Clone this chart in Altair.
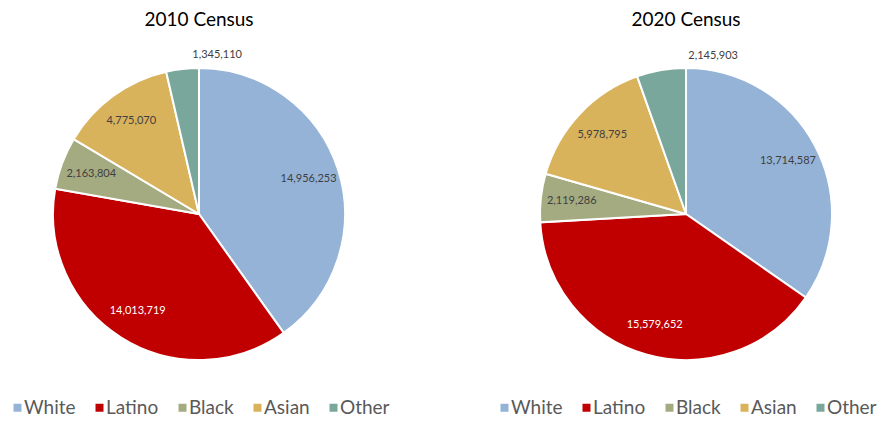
import altair as alt
import pandas as pd

groups = ["White", "Latino", "Black", "Asian", "Other"]
colors = ["#95B3D7", "#C00000", "#A5AB81", "#D9B25C", "#7AA79C"]
values_2010 = [14956253, 14013719, 2163804, 4775070, 1345110]
values_2020 = [13714587, 15579652, 2119286, 5978795, 2145903]
titles = ["2010 Census", "2020 Census"]

FONT = "Lato"


def panel(values, title):
    df = pd.DataFrame({
        "group": groups,
        "value": values,
        "idx": list(range(len(groups))),
    })
    df["label"] = [f"{v:,}" for v in values]
    base = alt.Chart(df).encode(
        theta=alt.Theta("value:Q", stack=True),
        order=alt.Order("idx:Q"),
    )
    arcs = base.mark_arc(outerRadius=146, stroke="white", strokeWidth=2).encode(
        color=alt.Color(
            "group:N",
            scale=alt.Scale(domain=groups, range=colors),
            sort=groups,
            legend=alt.Legend(
                title=None,
                orient="bottom",
                direction="horizontal",
                symbolType="square",
                symbolSize=64,
                symbolStrokeWidth=0,
                labelFontSize=19,
                labelFont=FONT,
                labelColor="#595959",
                columnPadding=14,
                labelOffset={"expr": "-3"},
                offset=10,
                padding=0,
            ),
        )
    )
    labels = base.transform_calculate(
        lr="datum.group === 'Other' ? 160 : 115"
    ).mark_text(font=FONT, fontSize=11).encode(
        radius=alt.Radius("lr:Q", scale=None),
        text="label:N",
        color=alt.condition(
            "datum.group === 'Latino'", alt.value("white"), alt.value("#404040")
        ),
    )
    return alt.layer(arcs, labels).properties(
        width=382,
        height=348,
        title=alt.TitleParams(title, fontSize=19, font=FONT, fontWeight="normal",
                              color="black", offset=10),
    )


chart = alt.hconcat(
    panel(values_2010, titles[0]),
    panel(values_2020, titles[1]),
    spacing=105,
).resolve_scale(color="independent").properties(
    padding={"top": 3, "left": 0, "right": 0, "bottom": 0}
).configure_view(stroke=None)

chart.save("out.html", embed_options={"renderer": "svg", "actions": False})
